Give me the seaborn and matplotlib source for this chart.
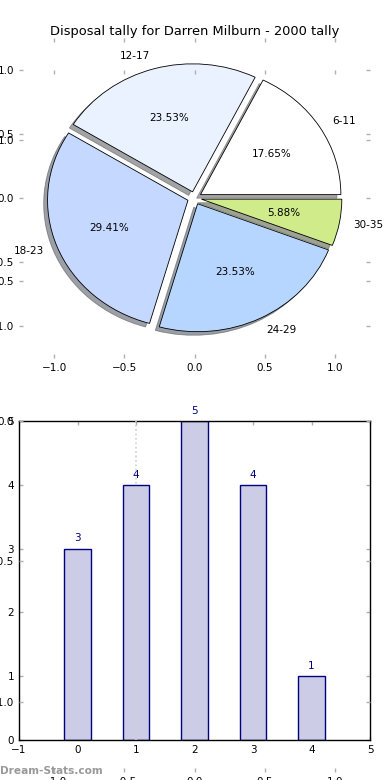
import matplotlib
matplotlib.use("Agg")
import matplotlib.pyplot as plt
import seaborn as sns
import pandas as pd
import numpy as np

# ---- data ----
age_groups = ["6-11", "12-17", "18-23", "24-29", "30-35"]
tally = [3, 4, 5, 4, 1]
pie_colors = ["#FFFFFF", "#EAF1FF", "#C5D8FF", "#B7D6FF", "#CFEB8A"]
bar_positions = [0, 1, 2, 3, 4]
bar_xticks = [-1, 0, 1, 2, 3, 4, 5]
bar_yticks = [0, 1, 2, 3, 4, 5]
pie_ticks = [-1.0, -0.5, 0.0, 0.5, 1.0]
title = "Disposal tally for Darren Milburn - 2000 tally"
watermark = "Dream-Stats.com"

sns.set_style("white")
plt.rcParams["font.family"] = ["DejaVu Sans"]
plt.rcParams["font.size"] = 7.5
plt.rcParams["text.color"] = "black"
plt.rcParams["axes.labelcolor"] = "black"
plt.rcParams["xtick.color"] = "black"
plt.rcParams["ytick.color"] = "black"

FS = 7.5
TICKC = "#b0b0b0"
W, H = 390, 780
fig = plt.figure(figsize=(3.9, 7.8), dpi=100)
fig.patch.set_facecolor("white")


def box(l, t, r, b):
    return [l / W, 1 - b / H, (r - l) / W, (b - t) / H]


def style_ticks(ax):
    ax.tick_params(axis="both", which="both", direction="in", length=3, width=1.0,
                   color=TICKC, labelcolor="black", labelsize=FS,
                   top=True, right=True, bottom=True, left=True, pad=3.5)


# ---- top: pie ----
ax1 = fig.add_axes(box(19, 38, 370, 358))
wedges, texts, autotexts = ax1.pie(
    tally, labels=age_groups, colors=pie_colors, explode=[0.05] * len(tally),
    autopct="%1.2f%%", shadow=True, startangle=0,
    wedgeprops=dict(edgecolor="black", linewidth=0.6),
    textprops=dict(fontsize=FS, color="black"),
)
ax1.set_aspect("auto")
ax1.set_xlim(-1.25, 1.25)
ax1.set_ylim(-1.25, 1.25)
ax1.set_xticks(pie_ticks)
ax1.set_yticks(pie_ticks)
ax1.set_xticklabels([f"{t:.1f}".replace("-", "\u2212") for t in pie_ticks])
ax1.set_yticklabels([f"{t:.1f}".replace("-", "\u2212") for t in pie_ticks])
ax1.set_frame_on(False)
style_ticks(ax1)
ax1.set_title(title, fontsize=9.4, pad=2, color="black")

# ---- bottom: bars ----
ax2 = fig.add_axes(box(19, 421, 370, 740))
df = pd.DataFrame({"pos": bar_positions, "tally": tally})
sns.barplot(data=df, x="pos", y="tally", ax=ax2, width=0.45, color="#CCCCE6",
            edgecolor="#000080", linewidth=1.0, saturation=1, native_scale=True)
for p, v in zip(bar_positions, tally):
    ax2.text(p, v + 0.08, str(v), color="#000080", ha="center", va="bottom",
             fontsize=FS, clip_on=False)
ax2.axvline(1, color="#cfcfcf", linestyle=":", linewidth=1.2, zorder=5)
ax2.set_xlim(-1, 5)
ax2.set_ylim(0, 5)
ax2.set_xticks(bar_xticks)
ax2.set_xticklabels([str(t).replace("-", "\u2212") for t in bar_xticks])
ax2.set_yticks(bar_yticks)
ax2.set_xlabel("")
ax2.set_ylabel("")
for s in ax2.spines.values():
    s.set_visible(True)
    s.set_color("black")
    s.set_linewidth(1.0)
style_ticks(ax2)

# ---- stray empty axes overlay ----
ax3 = fig.add_axes(box(19, 70, 370, 772))
ax3.patch.set_visible(False)
ax3.set_frame_on(False)
ax3.set_xlim(-1.25, 1.25)
ax3.set_ylim(-1.25, 1.25)
ax3.set_xticks(pie_ticks)
ax3.set_yticks(pie_ticks)
ax3.set_xticklabels([f"{t:.1f}".replace("-", "\u2212") for t in pie_ticks])
ax3.set_yticklabels([f"{t:.1f}".replace("-", "\u2212") for t in pie_ticks])
style_ticks(ax3)

fig.text(0.0, 1 - 771 / H, watermark, fontsize=7.6, color="#999999",
         fontweight="bold", ha="left", va="center")

fig.savefig("out.png", dpi=100, facecolor="white")
